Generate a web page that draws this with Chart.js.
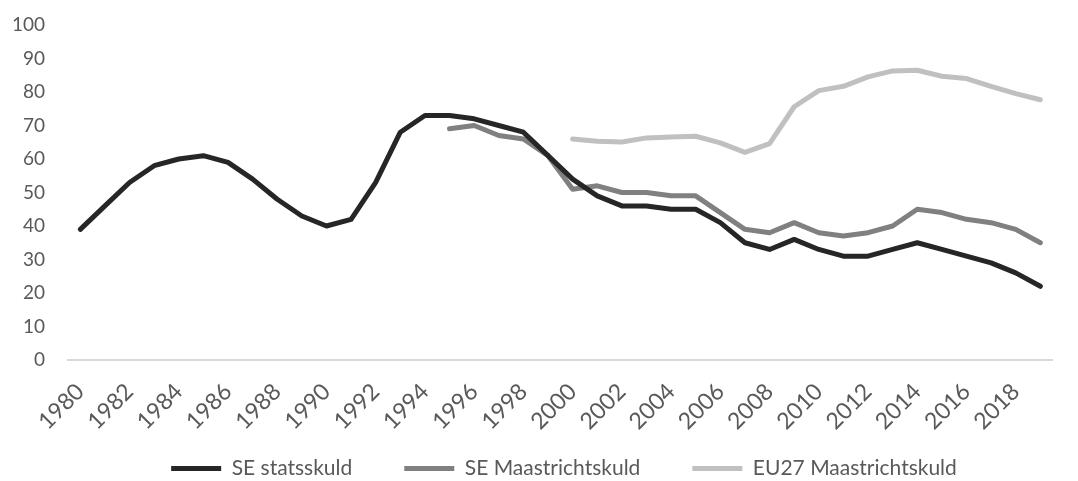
<!DOCTYPE html>
<html>
<head>
<meta charset="utf-8">
<script src="https://cdn.jsdelivr.net/npm/chart.js@4.4.1/dist/chart.umd.min.js"></script>
<style>
  html, body { margin: 0; padding: 0; background: #fff; }
  #wrap { width: 1078px; height: 481px; }
</style>
</head>
<body>
<div id="wrap"><canvas id="debtChart"></canvas></div>
<script>
/* ================= DATA ================= */
const years = [];
for (let y = 1980; y <= 2019; y++) years.push(String(y));

const seStatsskuld = [39, 46, 53, 58, 60, 61, 59, 54, 48, 43,
  40, 42, 53, 68, 73, 73, 72, 70, 68, 61,
  54, 49, 46, 46, 45, 45, 41, 35, 33, 36,
  33, 31, 31, 33, 35, 33, 31, 29, 26, 22];

const seMaastricht = [null, null, null, null, null, null, null, null, null, null,
  null, null, null, null, null, 69, 70, 67, 66, 61,
  51, 52, 50, 50, 49, 49, 44, 39, 38, 41,
  38, 37, 38, 40, 45, 44, 42, 41, 39, 35];

const eu27Maastricht = [null, null, null, null, null, null, null, null, null, null,
  null, null, null, null, null, null, null, null, null, null,
  66, 65.3, 65.1, 66.3, 66.6, 66.8, 64.8, 62, 64.6, 75.6,
  80.4, 81.7, 84.5, 86.3, 86.5, 84.7, 84, 81.7, 79.5, 77.7];

const seriesNames = ["SE statsskuld", "SE Maastrichtskuld", "EU27 Maastrichtskuld"];
const seriesColors = ["#262626", "#808080", "#c0c0c0"];

/* ================= CHART ================= */
const textColor = "#595959";
const fontFamily = "Lato, 'Noto Sans', sans-serif";

function makeDataset(i, values) {
  return {
    label: seriesNames[i],
    data: values,
    borderColor: seriesColors[i],
    backgroundColor: seriesColors[i],
    borderWidth: 5,
    borderCapStyle: "round",
    borderJoinStyle: "round",
    pointRadius: 0,
    tension: 0,
    spanGaps: false
  };
}

// legend padding sets both the gap between items and the space above them;
// reserve a short box for layout, then stretch it up under the axis labels
const legendSpacing = {
  id: "legendSpacing",
  afterInit(chart) {
    const legend = chart.legend;
    const fit = legend.fit;
    legend.fit = function () {
      fit.call(this);
      this.height = 40;
    };
  },
  afterLayout(chart) {
    const legend = chart.legend;
    legend.top -= 35;
    legend.bottom = chart.height;
    legend.height = legend.bottom - legend.top;
    legend.left += 31;
    legend.right += 31;
  }
};

new Chart(document.getElementById("debtChart"), {
  type: "line",
  data: {
    labels: years,
    datasets: [
      makeDataset(0, seStatsskuld),
      makeDataset(1, seMaastricht),
      makeDataset(2, eu27Maastricht)
    ]
  },
  plugins: [legendSpacing],
  options: {
    responsive: true,
    maintainAspectRatio: false,
    animation: false,
    layout: { padding: { top: 25, right: 12, bottom: 0, left: 0 } },
    plugins: {
      tooltip: { enabled: false },
      legend: {
        position: "bottom",
        labels: {
          color: textColor,
          font: { family: fontFamily, size: 21 },
          usePointStyle: true,
          pointStyle: "line",
          pointStyleWidth: 50,
          padding: 52
        }
      }
    },
    scales: {
      x: {
        offset: true,
        grid: { display: false, drawTicks: false },
        border: { display: true, color: "#d9d9d9", width: 2 },
        afterFit: axis => { axis.height = 81; },
        ticks: {
          color: textColor,
          font: { family: fontFamily, size: 23 },
          padding: 18,
          autoSkip: false,
          maxRotation: 45,
          minRotation: 45,
          callback: function (val, i) {
            return i % 2 === 0 ? this.getLabelForValue(val) : "";
          }
        }
      },
      y: {
        min: 0,
        max: 100,
        grid: { display: false, drawTicks: false },
        border: { display: false },
        afterFit: axis => {
          axis.width = 68;
          axis.paddingTop = 0;
          axis.paddingBottom = 0;
        },
        ticks: {
          stepSize: 10,
          padding: 23,
          color: textColor,
          font: { family: fontFamily, size: 19 }
        }
      }
    }
  }
});
</script>
</body>
</html>
